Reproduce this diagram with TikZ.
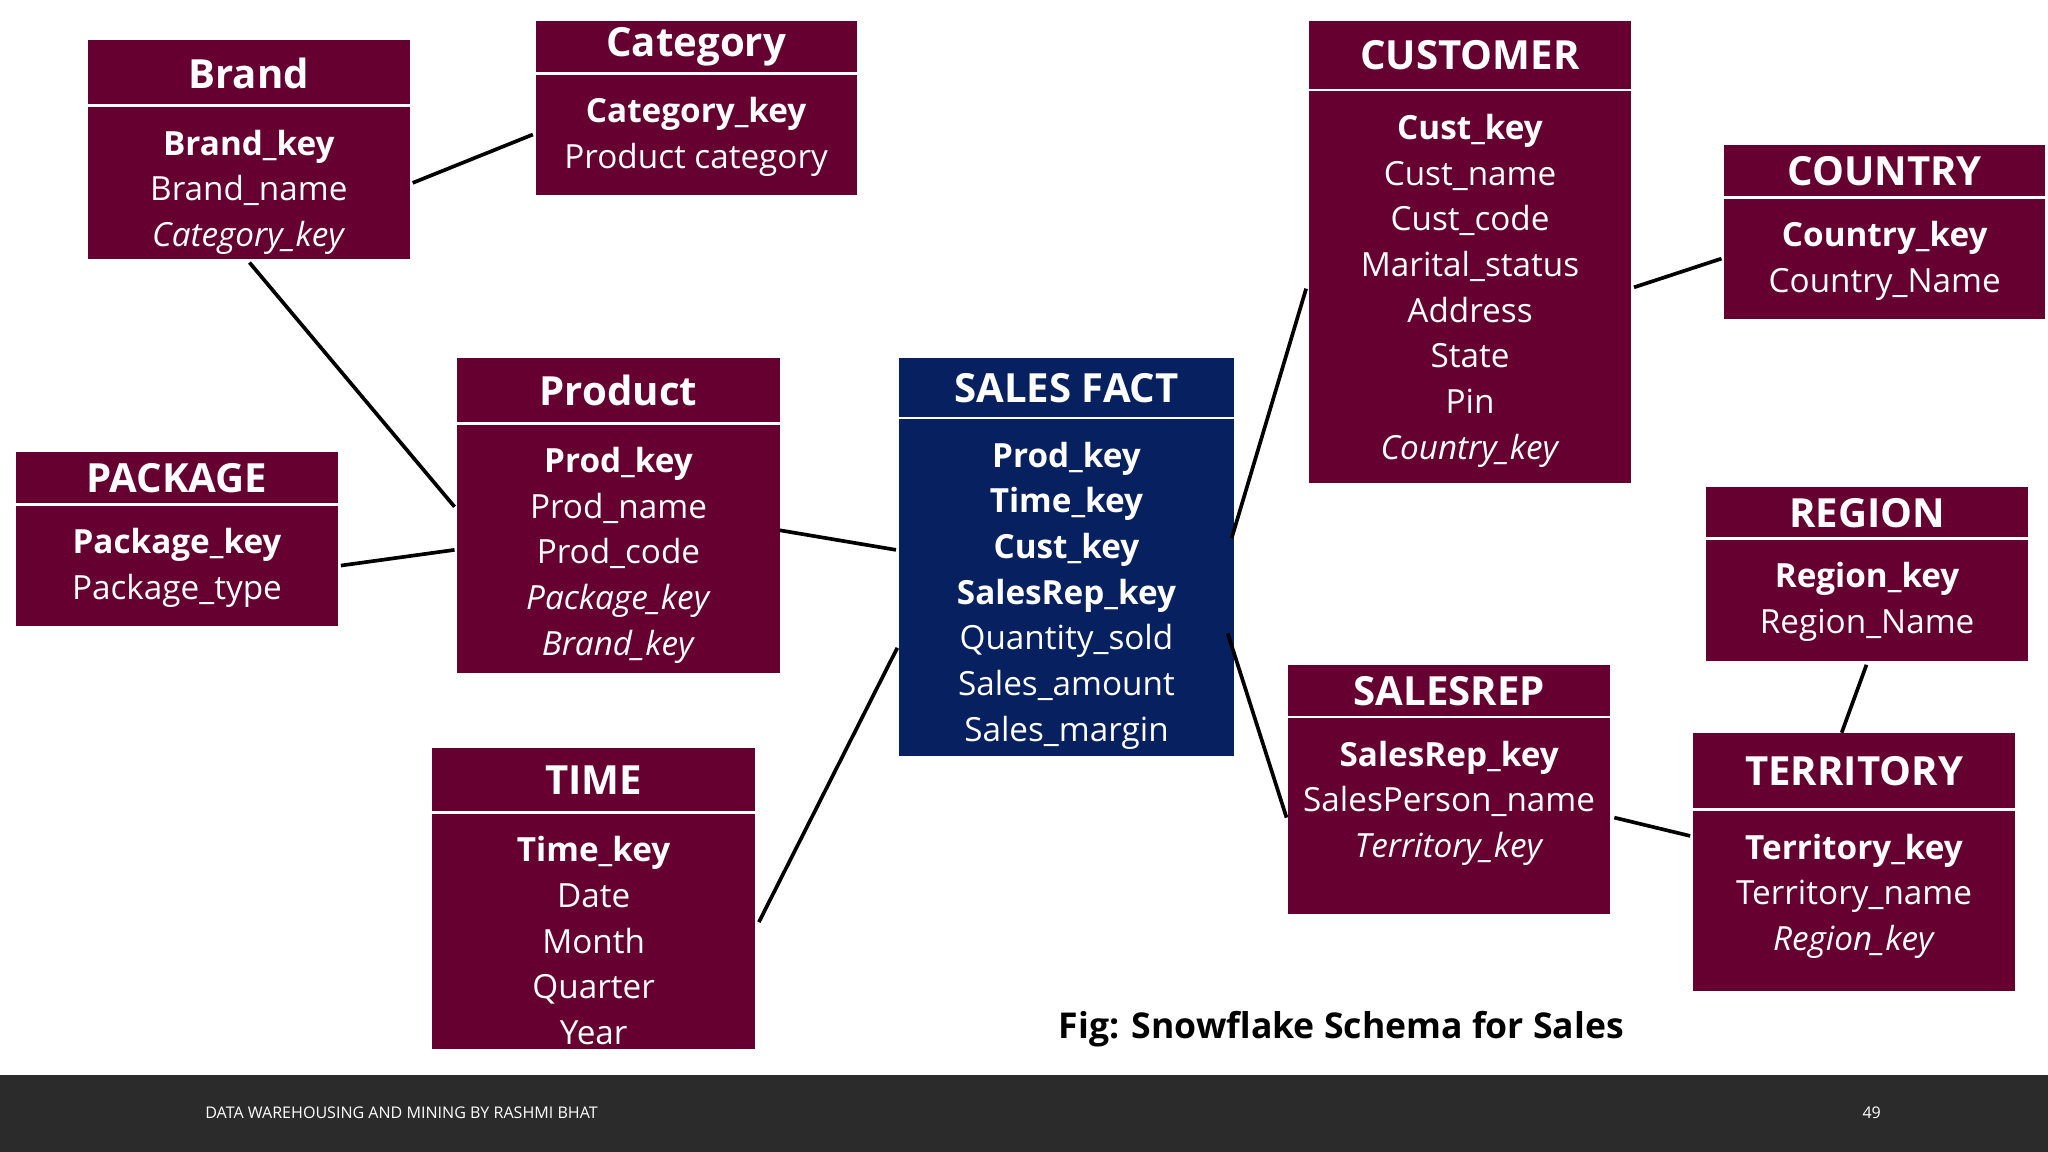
\documentclass[tikz,border=0pt]{standalone}
\usepackage{fontspec}
\setmainfont{Open Sans}
\definecolor{wine}{HTML}{650030}
\definecolor{navy}{HTML}{062060}
\definecolor{footer}{HTML}{2B2B2B}
\newcommand{\tbl}[9]{%
 \node[box,fill=#9,minimum width={(#4-#2)*0.02cm},minimum height={(#5-#3)*0.02cm}] (#1) at ({(#2+#4)/2},{(#3+#5)/2}) {};
 \draw[white,line width=1.2pt] (#2,#6) -- (#4,#6);
 \node[ttl] (#1t) at ({(#2+#4)/2},{(#3+#6)/2}) {#7};
 \node[rows,anchor=north] (#1r) at ({(#2+#4)/2},{#6+18}) {#8};
}
\begin{document}
\begin{tikzpicture}[x=0.02cm,y=-0.02cm,
 box/.style={draw=none,inner sep=0pt},
 ttl/.style={text=white,font=\fontsize{17.5}{20}\selectfont\bfseries,inner sep=0pt},
 rows/.style={text=white,align=center,font=\fontsize{14.5}{19.9}\selectfont,inner sep=0pt},
 link/.style={line width=1.6pt,black}]
\useasboundingbox (0,0) rectangle (1568,882);
\fill[white] (0,0) rectangle (1568,882);
\fill[footer] (0,823) rectangle (1568,882);
\node[text=white,font=\fontsize{7}{8}\selectfont,anchor=west] (ft) at (151,852) {DATA WAREHOUSING AND MINING BY RASHMI BHAT};
\node[text=white,font=\fontsize{7}{8}\selectfont] (pg) at (1433,852) {49};
\node[font=\fontsize{15.5}{19}\selectfont\bfseries] (cap) at (1027,788) {Fig: Snowflake Schema for Sales};

\tbl{brand}{67}{31}{314}{198}{81}{Brand}{\textbf{Brand\_key}\\Brand\_name\\\textit{Category\_key}}{wine}
\tbl{cat}{410}{16}{656}{149}{56}{Category}{\textbf{Category\_key}\\Product category}{wine}
\tbl{cust}{1002}{16}{1249}{370}{69}{CUSTOMER}{\textbf{Cust\_key}\\Cust\_name\\Cust\_code\\Marital\_status\\Address\\State\\Pin\\\textit{Country\_key}}{wine}
\tbl{country}{1320}{111}{1566}{244}{151}{COUNTRY}{\textbf{Country\_key}\\Country\_Name}{wine}
\tbl{prod}{350}{274}{597}{515}{324}{Product}{\textbf{Prod\_key}\\Prod\_name\\Prod\_code\\\textit{Package\_key}\\\textit{Brand\_key}}{wine}
\tbl{pack}{12}{346}{259}{479}{386}{PACKAGE}{\textbf{Package\_key}\\Package\_type}{wine}
\tbl{fact}{688}{274}{945}{579}{320}{SALES FACT}{\textbf{Prod\_key}\\\textbf{Time\_key}\\\textbf{Cust\_key}\\\textbf{SalesRep\_key}\\Quantity\_sold\\Sales\_amount\\Sales\_margin}{navy}
\tbl{region}{1306}{373}{1553}{506}{412}{REGION}{\textbf{Region\_key}\\Region\_Name}{wine}
\tbl{srep}{986}{509}{1233}{700}{549}{SALESREP}{\textbf{SalesRep\_key}\\SalesPerson\_name\\\textit{Territory\_key}}{wine}
\tbl{terr}{1296}{561}{1543}{759}{620}{TERRITORY}{\textbf{Territory\_key}\\Territory\_name\\\textit{Region\_key}}{wine}
\tbl{time}{331}{573}{578}{803}{622}{TIME}{\textbf{Time\_key}\\Date\\Month\\Quarter\\Year}{wine}

\coordinate (a1) at (316,140); \coordinate (a2) at (408,103);
\coordinate (b1) at (191,201); \coordinate (b2) at (348,388);
\coordinate (c1) at (261,433); \coordinate (c2) at (348,421);
\coordinate (d1) at (597,406); \coordinate (d2) at (686,421);
\coordinate (e1) at (581,706); \coordinate (e2) at (687,496);
\coordinate (f1) at (943,412); \coordinate (f2) at (1000,221);
\coordinate (g1) at (940,485); \coordinate (g2) at (985,626);
\coordinate (h1) at (1251,220); \coordinate (h2) at (1318,198);
\coordinate (i1) at (1236,626); \coordinate (i2) at (1294,640);
\coordinate (j1) at (1429,509); \coordinate (j2) at (1410,561);
\foreach \p in {a,b,c,d,e,f,g,h,i,j} \draw[link] (\p1) -- (\p2);
\end{tikzpicture}
\end{document}
